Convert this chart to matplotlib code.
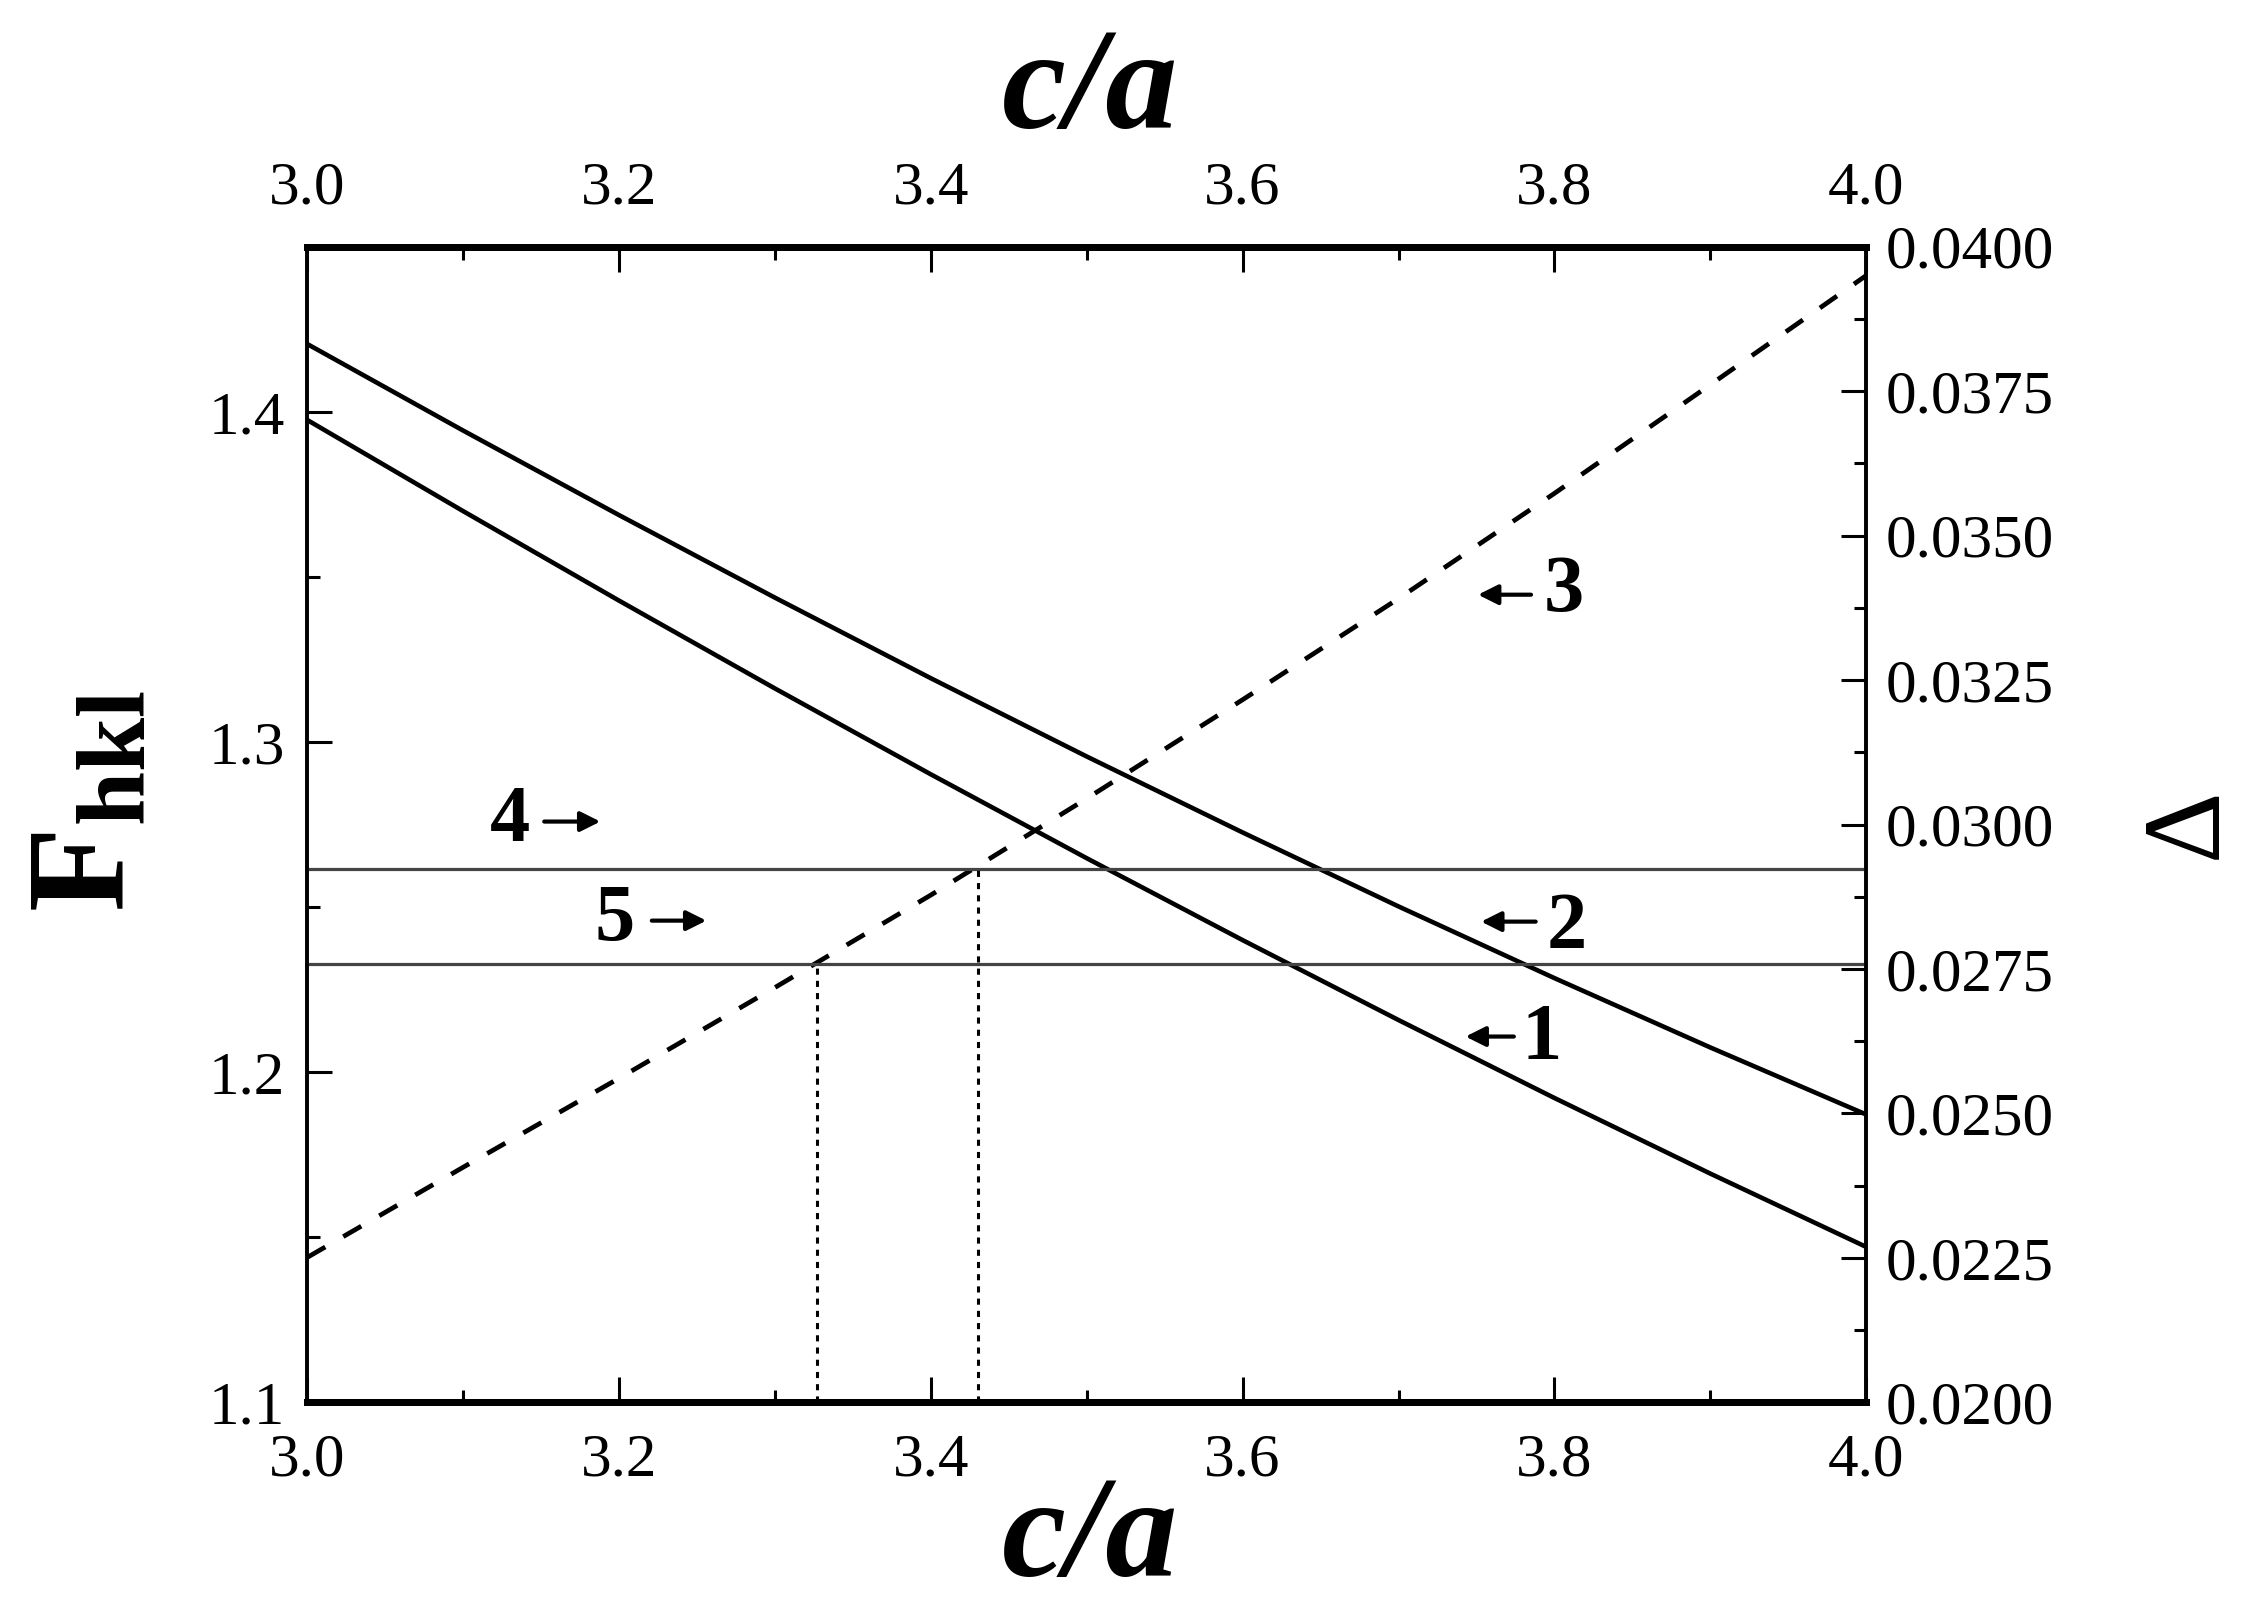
import numpy as np
import matplotlib
matplotlib.use('Agg')
import matplotlib.pyplot as plt
from matplotlib.ticker import MultipleLocator, FormatStrFormatter

### F_hkl and Delta against c/a

ca = [3.0, 3.1, 3.2, 3.3, 3.4, 3.5, 3.6, 3.7, 3.8, 3.9, 4.0]
f_1 = [1.3975, 1.3699, 1.3428, 1.3162, 1.2902, 1.2648, 1.2400, 1.2158, 1.1922, 1.1693, 1.1471]
f_2 = [1.4205, 1.3943, 1.3687, 1.3437, 1.3193, 1.2956, 1.2726, 1.2502, 1.2285, 1.2075, 1.1872]
delta_3 = [0.02251, 0.02407, 0.02561, 0.02718, 0.02878, 0.03045, 0.03216, 0.03391, 0.03573, 0.03761, 0.03950]
delta_4 = 0.02923
delta_5 = 0.02759
ca_cross = [3.327, 3.430]

serif = 'Liberation Serif'
plt.rcParams['font.family'] = serif
plt.rcParams['mathtext.fontset'] = 'custom'
plt.rcParams['mathtext.rm'] = serif
plt.rcParams['mathtext.bf'] = serif + ':bold'

fig = plt.figure(figsize=(22.43, 16.12), dpi=100)
ax = fig.add_axes([0.137, 0.130, 0.695, 0.717])
ax2 = ax.twinx()

ax.plot(ca, f_2, color='black', lw=3.3, solid_capstyle='butt', solid_joinstyle='round')
ax.plot(ca, f_1, color='black', lw=3.3, solid_capstyle='butt', solid_joinstyle='round')
ax2.plot(ca, delta_3, color='black', lw=3.4, linestyle=(0, (4.4, 4.4)))
ax2.axhline(delta_4, color='#444444', lw=2.3)
ax2.axhline(delta_5, color='#444444', lw=2.3)
ax2.vlines(ca_cross, 0.02, [delta_5, delta_4], colors='black', lw=2.2,
           linestyles=[(0, (2, 2))])

ax.set_xlim(3.0, 4.0)
ax.set_ylim(1.1, 1.45)
ax2.set_ylim(0.02, 0.04)

ax.xaxis.set_major_locator(MultipleLocator(0.2))
ax.xaxis.set_minor_locator(MultipleLocator(0.1))
ax.xaxis.set_major_formatter(FormatStrFormatter('%.1f'))
ax.yaxis.set_major_locator(MultipleLocator(0.1))
ax.yaxis.set_minor_locator(MultipleLocator(0.05))
ax.yaxis.set_major_formatter(FormatStrFormatter('%.1f'))
ax2.yaxis.set_major_locator(MultipleLocator(0.0025))
ax2.yaxis.set_minor_locator(MultipleLocator(0.00125))
ax2.yaxis.set_major_formatter(FormatStrFormatter('%.4f'))

ax.tick_params(axis='x', which='both', direction='in', top=True, labeltop=True,
               labelsize=44, width=2.2)
ax.tick_params(axis='x', which='major', length=18, pad=22)
ax.tick_params(axis='x', which='minor', length=9)
ax.tick_params(axis='y', which='both', direction='in', right=False,
               labelsize=44, width=2.2, pad=16)
ax.tick_params(axis='y', which='major', length=18)
ax.tick_params(axis='y', which='minor', length=9)
ax2.tick_params(axis='y', which='both', direction='in', labelsize=44, width=2.2, pad=14)
ax2.tick_params(axis='y', which='major', length=18)
ax2.tick_params(axis='y', which='minor', length=9)

for a in (ax, ax2):
    a.spines['top'].set_linewidth(5)
    a.spines['bottom'].set_linewidth(5)
    a.spines['left'].set_linewidth(2.6)
    a.spines['right'].set_linewidth(2.6)

# curve labels with little arrows
lab = dict(fontsize=58, fontweight='bold', ha='center', va='center')
arr = dict(arrowstyle='-|>', lw=3, color='black', mutation_scale=30, shrinkA=0, shrinkB=0)
ax.text(3.130, 1.2759, '4', **lab)
ax.annotate('', xy=(3.188, 1.2759), xytext=(3.152, 1.2759), arrowprops=arr)
ax.text(3.197, 1.2459, '5', **lab)
ax.annotate('', xy=(3.256, 1.2459), xytext=(3.221, 1.2459), arrowprops=arr)
ax.text(3.806, 1.3455, '3', **lab)
ax.annotate('', xy=(3.751, 1.3446), xytext=(3.785, 1.3446), arrowprops=arr)
ax.text(3.808, 1.2435, '2', **lab)
ax.annotate('', xy=(3.753, 1.2456), xytext=(3.788, 1.2456), arrowprops=arr)
ax.text(3.792, 1.2099, '1', **lab)
ax.annotate('', xy=(3.743, 1.2108), xytext=(3.774, 1.2108), arrowprops=arr)

fig.text(0.486, 0.942, 'c/a', fontsize=104, fontweight='bold', style='italic',
         ha='center', va='center')
fig.text(0.486, 0.044, 'c/a', fontsize=104, fontweight='bold', style='italic',
         ha='center', va='center')
fig.text(0.040, 0.503, r'$\mathbf{F}_{\mathbf{hkl}}$', fontsize=100, rotation=90,
         ha='center', va='center')
fig.text(0.976, 0.4895, '\u0394', fontsize=80, rotation=90, ha='center', va='center')

fig.savefig('out.png', dpi=100)
